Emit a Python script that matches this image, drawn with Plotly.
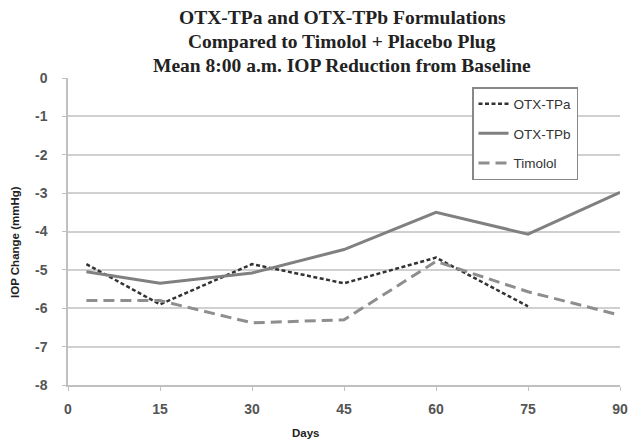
import plotly.graph_objects as go

days = [3, 15, 30, 45, 60, 75, 90]
otx_tpa = [-4.85, -5.9, -4.85, -5.35, -4.68, -5.95, None]
otx_tpb = [-5.05, -5.35, -5.08, -4.47, -3.5, -4.07, -2.98]
timolol = [-5.8, -5.8, -6.38, -6.3, -4.78, -5.57, -6.18]
x_ticks = [0, 15, 30, 45, 60, 75, 90]
y_ticks = [0, -1, -2, -3, -4, -5, -6, -7, -8]
title_lines = ["OTX-TPa and OTX-TPb Formulations",
               "Compared to Timolol + Placebo Plug",
               "Mean 8:00 a.m. IOP Reduction from Baseline"]

W, H = 630, 441
# plot area in screen pixels
SX0, SX1, SY0, SY1 = 68, 620, 78, 385
L, R = SX0, W - SX1
T, B = SY0, H - SY1
PW, PH = SX1 - SX0, SY1 - SY0


def px_x(sx):
    return (sx - SX0) / PW


def px_y(sy):
    return (SY1 - sy) / PH


fig = go.Figure()
fig.add_trace(go.Scatter(x=days, y=otx_tpa, name="OTX-TPa", mode="lines", legendgroup="a",
                         line=dict(color="#333333", width=2.5, dash="4px,2.5px")))
fig.add_trace(go.Scatter(x=days, y=otx_tpb, name="OTX-TPb", mode="lines", legendgroup="b",
                         line=dict(color="#808080", width=3)))
fig.add_trace(go.Scatter(x=days, y=timolol, name="Timolol", mode="lines", legendgroup="c",
                         line=dict(color="#8e8e8e", width=3, dash="11px,6px")))

annotations = []
for line, yc in zip(title_lines, [17.5, 41.5, 65]):
    annotations.append(dict(
        text="<b>" + line + "</b>", xref="paper", yref="paper",
        x=px_x(342), y=px_y(yc), xanchor="center", yanchor="middle",
        showarrow=False, font=dict(family="Liberation Serif", size=19.5, color="#222222")))
annotations.append(dict(
    text="<b>Days</b>", xref="paper", yref="paper",
    x=px_x(306), y=px_y(433), xanchor="center", yanchor="middle",
    showarrow=False, font=dict(family="Liberation Sans", size=11.5, color="#222222")))
annotations.append(dict(
    text="<b>IOP Change (mmHg)</b>", xref="paper", yref="paper", textangle=-90,
    x=px_x(15), y=px_y(242), xanchor="center", yanchor="middle",
    showarrow=False, font=dict(family="Liberation Sans", size=11.5, color="#222222")))

fig.update_layout(
    width=W, height=H,
    margin=dict(l=L, r=R, t=T, b=B, pad=0),
    paper_bgcolor="white", plot_bgcolor="white",
    annotations=annotations,
    showlegend=True,
    legend=dict(x=px_x(472), y=px_y(87), xanchor="left", yanchor="top",
                bordercolor="#888888", borderwidth=1.5, bgcolor="white",
                font=dict(family="Liberation Sans", size=13.5, color="#333333"),
                itemwidth=30, tracegroupgap=9),
    xaxis=dict(range=[0, 90], tickvals=x_ticks, ticktext=[str(v) for v in x_ticks],
               showgrid=False, showline=True, linecolor="#c0c0c0", linewidth=1.5,
               ticks="outside", tickcolor="#c0c0c0", ticklen=4, ticklabelstandoff=6,
               tickfont=dict(family="Liberation Sans", size=14, color="#555555", weight="bold"),
               zeroline=False, automargin=False),
    yaxis=dict(range=[-8, 0], tickvals=y_ticks, ticktext=[str(v) for v in y_ticks],
               showgrid=True, gridcolor="#d0d0d0", gridwidth=1.5,
               showline=True, linecolor="#c0c0c0", linewidth=1.5,
               ticks="outside", tickcolor="#c0c0c0", ticklen=4, ticklabelstandoff=12,
               tickfont=dict(family="Liberation Sans", size=14, color="#555555", weight="bold"),
               zeroline=False, automargin=False),
)

fig.write_html("out.html", config={"displayModeBar": False},
               post_script="document.body.style.margin='0';document.body.style.overflow='hidden';")
